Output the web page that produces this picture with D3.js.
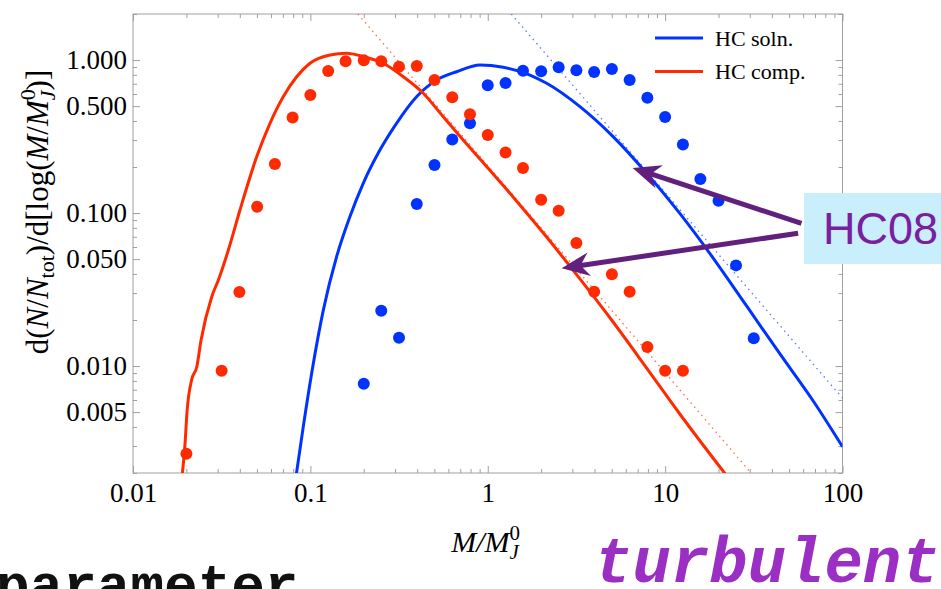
<!DOCTYPE html>
<html>
<head>
<meta charset="utf-8">
<script src="https://cdn.jsdelivr.net/npm/d3@7"></script>
<style>
  body { margin: 0; background: #fff; }
  svg { display: block; }
</style>
</head>
<body>
<svg id="chart" width="941" height="589"></svg>
<script>
"use strict";

// simulation bins, M/M_J^0
var compMass = [0.02, 0.0316, 0.0398, 0.0501, 0.0631, 0.0794, 0.1, 0.126, 0.158, 0.2,
  0.251, 0.316, 0.398, 0.501, 0.631, 0.794, 1.0, 1.26, 1.58, 2.0, 2.51, 3.16, 3.98,
  5.01, 6.31, 7.94, 10.0, 12.6];
var compFrac = [0.00267, 0.00933, 0.0305, 0.110, 0.209, 0.422, 0.591, 0.847, 0.981, 0.996,
  0.981, 0.905, 0.914, 0.741, 0.571, 0.443, 0.324, 0.249, 0.197, 0.122, 0.1035, 0.0637, 0.0306,
  0.0398, 0.0306, 0.0133, 0.00933, 0.00933];

var solnMass = [0.2, 0.251, 0.316, 0.398, 0.501, 0.631, 0.794, 1.0, 1.26, 1.58, 2.0, 2.51,
  3.16, 3.98, 5.01, 6.31, 7.94, 10.0, 12.6, 15.8, 20.0, 25.1, 31.6];
var solnFrac = [0.00767, 0.0230, 0.0153, 0.1146, 0.206, 0.303, 0.386, 0.684, 0.708, 0.852,
  0.844, 0.897, 0.857, 0.835, 0.875, 0.741, 0.568, 0.425, 0.281, 0.167, 0.1205, 0.0455, 0.0152];

// HC08 analytic curves
var hcCompM = [0.0189, 0.0196, 0.0202, 0.0214, 0.0229, 0.0242, 0.0278, 0.0303, 0.0345, 0.0401,
  0.0498, 0.0592, 0.0703, 0.0837, 0.0995, 0.129, 0.160, 0.199, 0.2575, 0.334, 0.433, 0.561,
  0.727, 0.904, 1.393, 2.148, 3.31, 5.09, 7.87, 12.1, 22.3];
var hcCompF = [0.0019, 0.00297, 0.00516, 0.00811, 0.0099, 0.0148, 0.0284, 0.0365, 0.0574, 0.1047,
  0.233, 0.386, 0.576, 0.778, 0.953, 1.08, 1.107, 1.052, 0.953, 0.778, 0.607, 0.426,
  0.300, 0.2255, 0.127, 0.0697, 0.0371, 0.0194, 0.0097, 0.00486, 0.00191];

var hcSolnM = [0.083, 0.0912, 0.1017, 0.1183, 0.1406, 0.167, 0.1986, 0.2466, 0.306, 0.397,
  0.515, 0.668, 0.904, 1.223, 1.729, 2.148, 3.31, 5.09, 7.87, 12.1, 18.66, 28.8, 44.4, 68.4, 100];
var hcSolnF = [0.0019, 0.00402, 0.00897, 0.0232, 0.0519, 0.0946, 0.1564, 0.258, 0.386, 0.576,
  0.741, 0.839, 0.929, 0.897, 0.798, 0.705, 0.496, 0.316, 0.182, 0.0995, 0.0508, 0.0247,
  0.0120, 0.00591, 0.00297];

// power-law asymptotes (dotted)
var compTailM = [0.1854, 30.5];
var compTailF = [2, 0.002];
var solnTailM = [1.357, 100];
var solnTailF = [2, 0.00617];

// arrows pointing at the curves: [tailM, tailF, tipM, tipF]
var arrows = [[58.7, 0.0857, 6.56, 0.197], [56.2, 0.0738, 2.61, 0.0435]];

var xMajor = [0.01, 0.1, 1, 10, 100];
var xLabels = ["0.01", "0.1", "1", "10", "100"];
var yMajor = [0.005, 0.01, 0.05, 0.1, 0.5, 1];
var yLabels = ["0.005", "0.010", "0.050", "0.100", "0.500", "1.000"];

var seriesNames = ["HC soln.", "HC comp."];

var red = "#ff2a00", blue = "#0033ff", frameColor = "#a0a0a0";
var serif = "'Liberation Serif', 'Times New Roman', serif";

var svg = d3.select("#chart"),
    margin = {top: 14, right: 98.5, bottom: 116, left: 133},
    width = +svg.attr("width") - margin.left - margin.right,
    height = +svg.attr("height") - margin.top - margin.bottom,
    g = svg.append("g").attr("transform", "translate(" + margin.left + "," + margin.top + ")");

var x = d3.scaleLog().domain([0.01, 100]).range([0, width]);
var y = d3.scaleLog().domain([0.002, 2]).range([height, 0]);

svg.append("defs").append("clipPath").attr("id", "plotclip")
  .append("rect").attr("width", width).attr("height", height);

function zip(a, b) {
  return a.map(function(d, i) { return [d, b[i]]; });
}

var line = d3.line()
    .x(function(d) { return x(d[0]); })
    .y(function(d) { return y(d[1]); })
    .curve(d3.curveMonotoneX);

var straight = d3.line()
    .x(function(d) { return x(d[0]); })
    .y(function(d) { return y(d[1]); });

// minor ticks (all 1..9 multiples), then the long ones
var xMinor = x.ticks().filter(function(d) { return xMajor.indexOf(d) < 0; });
var yMinor = y.ticks().filter(function(d) {
  return yMajor.every(function(m) { return Math.abs(m - d) / m > 1e-6; });
});

function styleAxis(sel) {
  sel.select(".domain").remove();
  sel.selectAll("line").attr("stroke", frameColor);
  sel.selectAll("text").attr("fill", "#000").attr("font-family", serif);
}

g.append("g").attr("transform", "translate(0," + height + ")")
    .call(d3.axisBottom(x).tickValues(xMinor).tickSize(-4).tickFormat(""))
    .call(styleAxis);
g.append("g").attr("transform", "translate(0," + height + ")")
    .call(d3.axisBottom(x).tickValues(xMajor).tickSize(-7).tickPadding(10)
      .tickFormat(function(d, i) { return xLabels[i]; }))
    .call(styleAxis)
    .selectAll("text").attr("font-size", 27);
g.append("g")
    .call(d3.axisTop(x).tickValues(xMinor).tickSize(-4).tickFormat(""))
    .call(styleAxis);
g.append("g")
    .call(d3.axisTop(x).tickValues(xMajor).tickSize(-7).tickFormat(""))
    .call(styleAxis);

g.append("g")
    .call(d3.axisLeft(y).tickValues(yMinor).tickSize(-4).tickFormat(""))
    .call(styleAxis);
g.append("g")
    .call(d3.axisLeft(y).tickValues(yMajor).tickSize(-7).tickPadding(6)
      .tickFormat(function(d, i) { return yLabels[i]; }))
    .call(styleAxis)
    .selectAll("text").attr("font-size", 27);
g.append("g").attr("transform", "translate(" + width + ",0)")
    .call(d3.axisRight(y).tickValues(yMinor).tickSize(-4).tickFormat(""))
    .call(styleAxis);
g.append("g").attr("transform", "translate(" + width + ",0)")
    .call(d3.axisRight(y).tickValues(yMajor).tickSize(-7).tickFormat(""))
    .call(styleAxis);

g.append("rect")
    .attr("width", width)
    .attr("height", height)
    .attr("fill", "none")
    .attr("stroke", frameColor)
    .attr("stroke-width", 1);

var plot = g.append("g").attr("clip-path", "url(#plotclip)");

// dotted asymptotes
plot.append("path")
    .datum(zip(compTailM, compTailF))
    .attr("fill", "none")
    .attr("stroke", "#ff6a50")
    .attr("stroke-width", 1.3)
    .attr("stroke-dasharray", "1.5 4")
    .attr("d", straight);
plot.append("path")
    .datum(zip(solnTailM, solnTailF))
    .attr("fill", "none")
    .attr("stroke", "#5a78ff")
    .attr("stroke-width", 1.3)
    .attr("stroke-dasharray", "1.5 4")
    .attr("d", straight);

// analytic curves
plot.append("path")
    .datum(zip(hcSolnM, hcSolnF))
    .attr("fill", "none")
    .attr("stroke", blue)
    .attr("stroke-width", 3)
    .attr("d", line);
plot.append("path")
    .datum(zip(hcCompM, hcCompF))
    .attr("fill", "none")
    .attr("stroke", red)
    .attr("stroke-width", 3)
    .attr("d", line);

// simulation points
plot.selectAll("circle.soln")
    .data(zip(solnMass, solnFrac))
  .enter().append("circle")
    .attr("class", "soln")
    .attr("r", 6)
    .attr("fill", blue)
    .attr("cx", function(d) { return x(d[0]); })
    .attr("cy", function(d) { return y(d[1]); });
plot.selectAll("circle.comp")
    .data(zip(compMass, compFrac))
  .enter().append("circle")
    .attr("class", "comp")
    .attr("r", 6)
    .attr("fill", red)
    .attr("cx", function(d) { return x(d[0]); })
    .attr("cy", function(d) { return y(d[1]); });

// legend
var legend = g.append("g").attr("transform", "translate(522,24)");
[blue, red].forEach(function(c, i) {
  legend.append("line")
      .attr("x1", 0).attr("x2", 48)
      .attr("y1", i * 33.4).attr("y2", i * 33.4)
      .attr("stroke", c).attr("stroke-width", 3);
  legend.append("text")
      .attr("x", 60).attr("y", i * 33.4)
      .attr("dy", "0.35em")
      .attr("font-family", serif)
      .attr("font-size", 22)
      .text(seriesNames[i]);
});

// rich text helper: parts = [text, italic, size, dx, dy]
function rich(sel, parts) {
  parts.forEach(function(p) {
    var t = sel.append("tspan").text(p[0]);
    if (p[1]) t.attr("font-style", "italic");
    if (p[2]) t.attr("font-size", p[2]);
    if (p[3]) t.attr("dx", p[3]);
    if (p[4]) t.attr("dy", p[4]);
  });
}

var xTitle = svg.append("text")
    .attr("x", 486).attr("y", 552)
    .attr("text-anchor", "middle")
    .attr("font-family", serif)
    .attr("font-size", 30);
rich(xTitle, [["M/M", true], ["0", false, 21, 0, -12], ["J", true, 21, -10.5, 19], ["\u200a", false, 21, 0, -7]]);

var yTitle = svg.append("text")
    .attr("transform", "translate(48,212) rotate(-90)")
    .attr("text-anchor", "middle")
    .attr("font-family", serif)
    .attr("font-size", 31);
rich(yTitle, [["d(", false], ["N", true], ["/", false], ["N", true],
  ["tot", false, 22, 0, 6], [")/d[log(", false, 31, 0, -6], ["M", true], ["/", false],
  ["M", true], ["0", false, 22, 0, -13], ["J", true, 22, -11, 20],
  [")]", false, 31, 0, -7]]);

// annotation arrows
var arrowColor = "#62207e";
arrows.forEach(function(a) {
  var x0 = margin.left + x(a[0]), y0 = margin.top + y(a[1]),
      x1 = margin.left + x(a[2]), y1 = margin.top + y(a[3]);
  var ang = Math.atan2(y1 - y0, x1 - x0) * 180 / Math.PI;
  var len = Math.hypot(x1 - x0, y1 - y0);
  var ag = svg.append("g")
      .attr("transform", "translate(" + x0 + "," + y0 + ") rotate(" + ang + ")");
  ag.append("line")
      .attr("x1", 0).attr("y1", 0)
      .attr("x2", len - 16).attr("y2", 0)
      .attr("stroke", arrowColor)
      .attr("stroke-width", 5);
  ag.append("path")
      .attr("d", "M" + len + ",0L" + (len - 28) + ",-12L" + (len - 19) + ",0L" + (len - 28) + ",12Z")
      .attr("fill", arrowColor);
});

// HC08 label box
svg.append("rect")
    .attr("x", 804).attr("y", 193)
    .attr("width", 140).attr("height", 71)
    .attr("fill", "#c9eefc");
svg.append("text")
    .attr("x", 823).attr("y", 244)
    .attr("font-family", "'Liberation Sans', Arial, sans-serif")
    .attr("font-size", 45)
    .attr("fill", "#7a209e")
    .text("HC08");

// slide text bleeding in at the bottom
svg.append("text")
    .attr("x", 594).attr("y", 582)
    .attr("font-family", "'Liberation Mono', 'Courier New', monospace")
    .attr("font-weight", "bold")
    .attr("font-style", "italic")
    .attr("font-size", 64)
    .attr("fill", "#9b2fc4")
    .text("turbulent");
svg.append("text")
    .attr("x", -4).attr("y", 603)
    .attr("font-family", "'Liberation Mono', 'Courier New', monospace")
    .attr("font-weight", "bold")
    .attr("font-size", 56)
    .attr("fill", "#111")
    .text("parameter");
</script>
</body>
</html>
